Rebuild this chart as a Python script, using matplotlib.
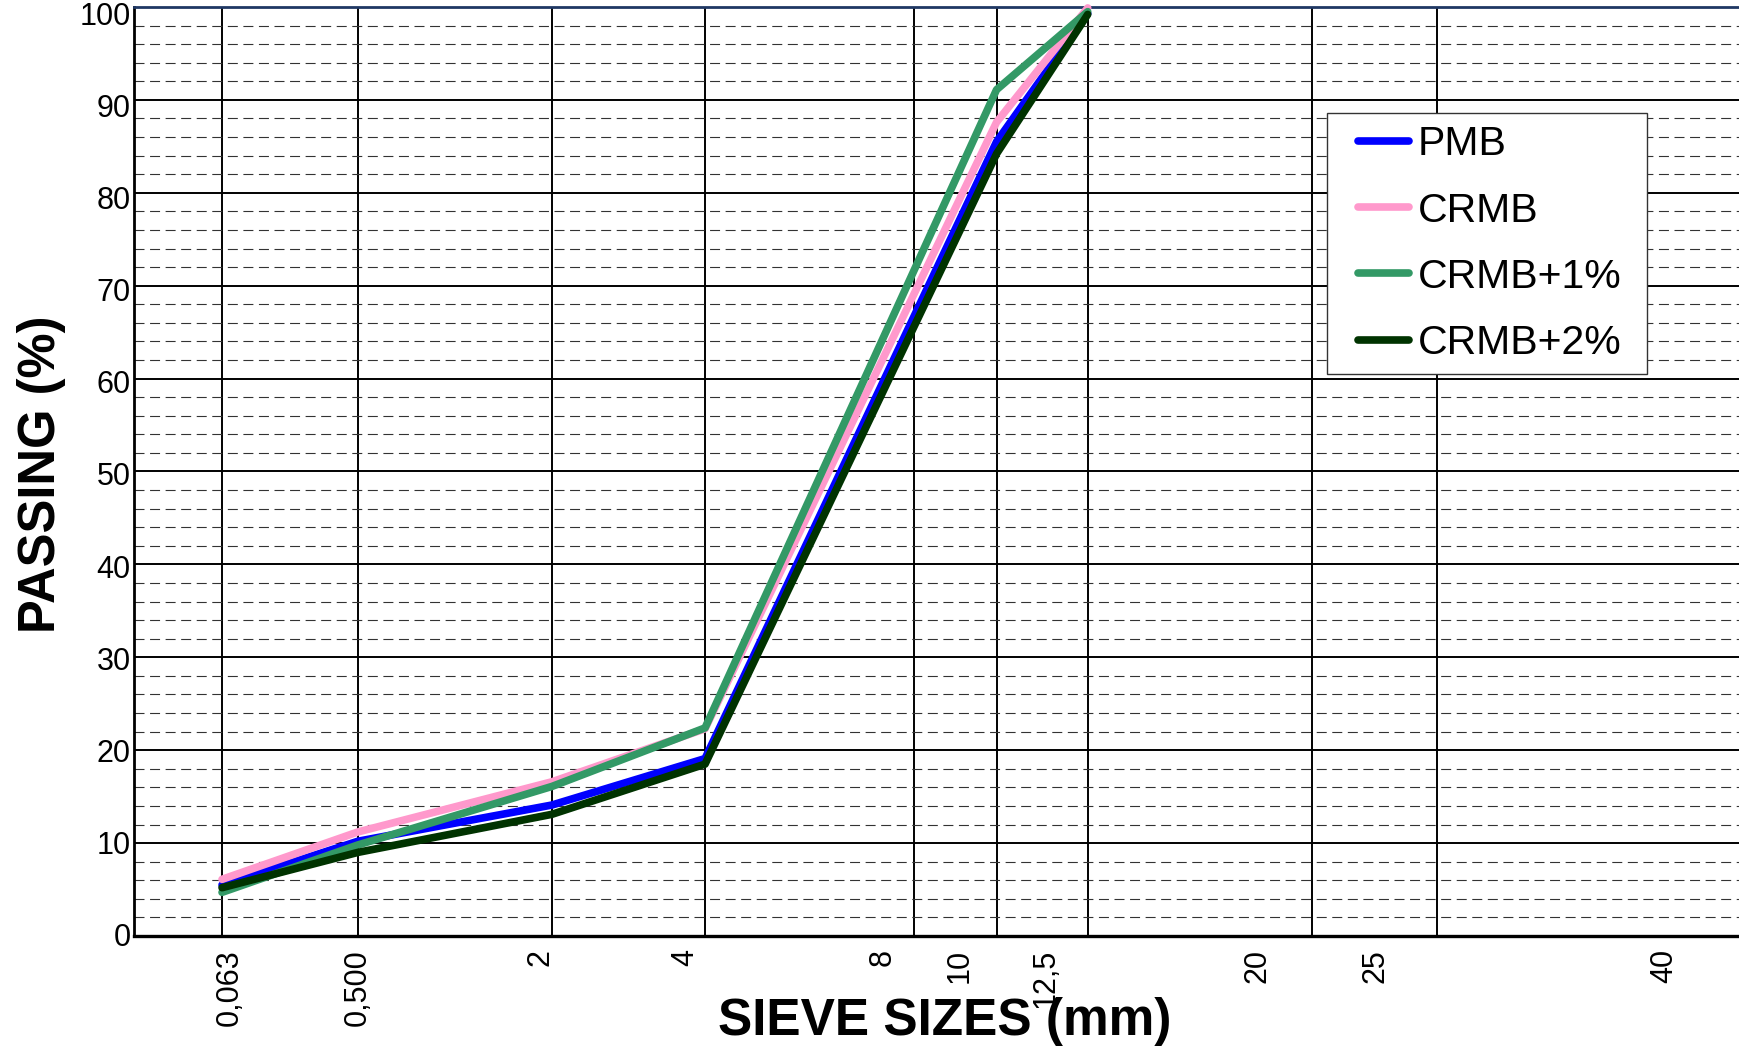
import numpy as np
import matplotlib
matplotlib.use('Agg')
import matplotlib.pyplot as plt
from matplotlib.ticker import MultipleLocator, NullLocator
from matplotlib.lines import Line2D
from matplotlib.legend_handler import HandlerLine2D
import matplotlib.transforms as mtransforms

plt.rcParams['font.family'] = ['Liberation Sans', 'DejaVu Sans']

# ---- data ----
sieve_sizes = [0.063, 0.5, 2, 4, 10, 12.5]
grid_sizes = [0.063, 0.5, 2, 4, 8, 10, 12.5, 20, 25, 40]
grid_labels = ['0,063', '0,500', '2', '4', '8', '10', '12,5', '20', '25', '40']
y_ticks = [0, 10, 20, 30, 40, 50, 60, 70, 80, 90, 100]
pmb = [5.5, 10.2, 14.1, 19.1, 85.5, 99.3]
crmb = [6.1, 11.2, 16.6, 22.3, 87.6, 99.9]
crmb1 = [4.7, 9.8, 16.1, 22.4, 91.1, 99.5]
crmb2 = [5.2, 9.0, 13.1, 18.5, 84.2, 99.2]
series_names = ['PMB', 'CRMB', 'CRMB+1%', 'CRMB+2%']
colors = ['#0000FF', '#FF99CC', '#339966', '#003300']

# 0.45 power gradation scale
POW = 0.45
def fwd(x):
    x = np.asarray(x, dtype=float)
    return np.sign(x) * np.abs(x) ** POW
def inv(y):
    y = np.asarray(y, dtype=float)
    return np.sign(y) * np.abs(y) ** (1 / POW)

W, H = 1740, 1047
fig = plt.figure(figsize=(W / 100, H / 100), dpi=100)
ax = fig.add_axes([133.8 / W, 1 - 936 / H, 1610 / W, 929 / H])
ax.set_xscale('function', functions=(fwd, inv))
ax.set_xlim(0, 40)
ax.set_ylim(0, 100)

ax.set_xticks(grid_sizes)
ax.xaxis.set_minor_locator(NullLocator())
ax.set_yticks(y_ticks)
ax.yaxis.set_minor_locator(MultipleLocator(2))
ax.grid(which='major', color='black', lw=1.4)
ax.grid(which='minor', axis='y', color='#333333', lw=0.8, linestyle=(0, (9, 5)))
ax.tick_params(which='both', length=0, labelbottom=False, labelleft=False)

ax.spines['left'].set_linewidth(2)
ax.spines['bottom'].set_linewidth(2.4)
ax.spines['top'].set_color('#1F3864')
ax.spines['top'].set_linewidth(2)
ax.spines['right'].set_visible(False)

lines = []
for vals, name, c in zip([pmb, crmb, crmb1, crmb2], series_names, colors):
    ln, = ax.plot(sieve_sizes, vals, color=c, lw=5.5, label=name,
                  solid_capstyle='round', solid_joinstyle='round', zorder=3, clip_on=False)
    lines.append(ln)

# x labels (rotated), drawn on slightly compressed positions like the original
pmax = float(fwd(40))
for s, lab in zip(grid_sizes, grid_labels):
    xf = 0.0079 + 0.943 * float(fwd(s)) / pmax
    ax.text(xf, -0.014, lab, transform=ax.transAxes, rotation=90,
            ha='center', va='top', fontsize=22)

# y labels
for v in y_ticks:
    off = mtransforms.ScaledTranslation(0, -(2 + 0.08 * v) / 100, fig.dpi_scale_trans)
    ax.text(-0.002, v, str(v), transform=ax.get_yaxis_transform() + off,
            ha='right', va='center', fontsize=22)

leg = fig.legend(lines, series_names, loc='upper left',
                 bbox_to_anchor=(1327 / W, 1 - 376 / H, 320 / W, 263 / H),
                 mode='expand', fontsize=29.5,
                 frameon=True, fancybox=False, shadow=False, framealpha=1,
                 borderpad=0.3, labelspacing=0.69, handlelength=1.70,
                 handletextpad=0.21, borderaxespad=0,
                 handler_map={Line2D: HandlerLine2D(xpad=0.456)})
leg.get_frame().set_edgecolor('#333333')
leg.get_frame().set_linewidth(1.0)

fig.text(42 / W, 1 - 474 / H, 'PASSING (%)', rotation=90, ha='center', va='center',
         fontsize=36.5, fontweight='bold')
fig.text(945 / W, 1 - 1035 / H, 'SIEVE SIZES (mm)', ha='center', va='baseline',
         fontsize=37, fontweight='bold')

fig.savefig('out.png', dpi=100)
